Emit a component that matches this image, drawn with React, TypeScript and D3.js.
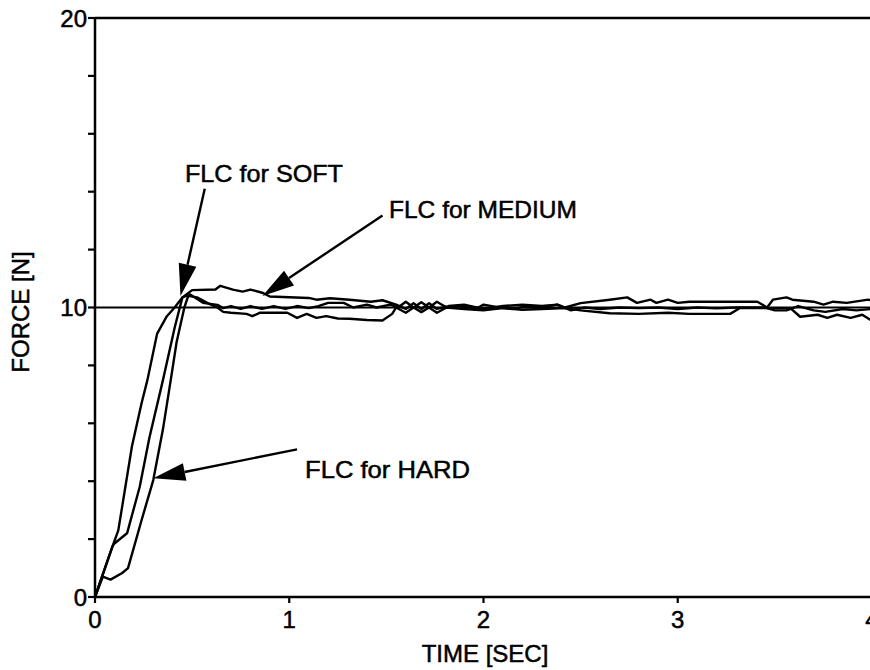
import React from 'react';
import * as d3 from 'd3';

// force response of the three controllers, [time s, force N]
const softSeries: [number, number][] = [
  [0, 0], [0.09, 1.75], [0.12, 2.3], [0.19, 5.2], [0.24, 6.7], [0.27, 7.5], [0.32, 9.1], [0.37, 9.7],
  [0.41, 10.0], [0.45, 10.35], [0.49, 10.45], [0.556, 10.16], [0.63, 10.09], [0.66, 9.98], [0.7, 10.05],
  [0.75, 9.95], [0.8, 10.05], [0.86, 9.95], [0.92, 10.05], [0.98, 9.95], [1.04, 10.05], [1.1, 9.98],
  [1.15, 10.05], [1.2, 10.16], [1.28, 10.16], [1.33, 10.0], [1.4, 10.1], [1.45, 10.0], [1.52, 10.1],
  [1.56, 10.0], [1.6, 10.2], [1.64, 10.0], [1.68, 10.18], [1.72, 10.0], [1.76, 10.2], [1.81, 10.0],
  [1.9, 10.05], [1.96, 9.95], [2.0, 10.1], [2.08, 10.0], [2.15, 9.95], [2.22, 10.05], [2.3, 10.0],
  [2.38, 10.1], [2.45, 9.9], [2.52, 10.0], [2.6, 9.95], [2.7, 10.0], [2.8, 9.98], [2.9, 10.0],
  [3.0, 9.95], [3.1, 10.0], [3.2, 9.97], [3.3, 10.0], [3.45, 10.0], [3.5, 9.9], [3.56, 9.9],
  [3.62, 10.05], [3.7, 9.9], [3.76, 9.85], [3.85, 9.95], [3.92, 9.9], [4.0, 9.95],
];

const mediumSeries: [number, number][] = [
  [0, 0], [0.09, 1.75], [0.1, 1.85], [0.165, 2.2], [0.23, 3.8], [0.28, 5.5], [0.35, 7.5], [0.41, 9.3],
  [0.45, 10.35], [0.5, 10.6], [0.62, 10.62], [0.645, 10.75], [0.71, 10.62], [0.76, 10.55], [0.8, 10.62],
  [0.865, 10.5], [0.9, 10.38], [1.1, 10.33], [1.14, 10.27], [1.21, 10.32], [1.31, 10.27], [1.42, 10.2],
  [1.48, 10.25], [1.55, 10.1], [1.6, 9.95], [1.64, 10.15], [1.68, 9.95], [1.72, 10.15], [1.76, 9.95],
  [1.82, 10.05], [1.9, 10.1], [2.0, 9.95], [2.1, 10.05], [2.2, 10.1], [2.3, 10.05], [2.38, 10.1],
  [2.42, 10.0], [2.5, 10.15], [2.65, 10.27], [2.74, 10.35], [2.79, 10.16], [2.86, 10.27], [2.89, 10.16],
  [2.95, 10.27], [3.0, 10.16], [3.06, 10.2], [3.41, 10.2], [3.46, 10.0], [3.49, 10.27], [3.56, 10.35],
  [3.59, 10.27], [3.7, 10.2], [3.75, 10.1], [3.8, 10.2], [3.87, 10.16], [3.98, 10.27], [4.0, 10.25],
];

const hardSeries: [number, number][] = [
  [0, 0], [0.04, 0.7], [0.08, 0.6], [0.14, 0.83], [0.17, 1.0], [0.24, 2.66], [0.3, 4.04], [0.35, 5.8],
  [0.39, 7.5], [0.42, 8.8], [0.46, 10.0], [0.48, 10.4], [0.525, 10.35], [0.58, 10.15], [0.63, 10.0],
  [0.66, 9.85], [0.7, 9.82], [0.78, 9.78], [0.81, 9.7], [0.85, 9.82], [0.99, 9.82], [1.04, 9.64],
  [1.09, 9.78], [1.14, 9.64], [1.19, 9.7], [1.25, 9.62], [1.31, 9.61], [1.4, 9.57], [1.48, 9.55],
  [1.53, 9.78], [1.55, 10.0], [1.6, 9.82], [1.64, 10.0], [1.68, 9.84], [1.72, 10.0], [1.76, 9.82],
  [1.81, 10.0], [1.9, 9.95], [2.0, 9.9], [2.1, 9.98], [2.2, 9.92], [2.3, 9.95], [2.42, 9.98],
  [2.5, 9.9], [2.65, 9.8], [2.8, 9.78], [2.95, 9.82], [3.06, 9.78], [3.27, 9.78], [3.32, 9.98],
  [3.58, 9.98], [3.63, 9.68], [3.72, 9.75], [3.77, 9.64], [3.82, 9.75], [3.89, 9.64], [3.95, 9.75],
  [4.0, 9.54],
];

const xTicks = [0, 1, 2, 3, 4];
const yMinorTicks = [0, 2, 4, 6, 8, 10, 12, 14, 16, 18, 20];
const yLabels = [0, 10, 20];
const setPoint = 10;

// annotations: label, text box, arrow from [t,F] to [t,F]
const notes = [
  { text: 'FLC for SOFT', x: 185, y: 182, w: 158, from: [0.565, 14.1], to: [0.44, 10.4] },
  { text: 'FLC for MEDIUM', x: 389, y: 218, w: 188, from: [1.48, 13.18], to: [0.862, 10.4] },
  { text: 'FLC for HARD', x: 305, y: 478, w: 165, from: [1.04, 5.1], to: [0.3, 4.1] },
];

const W = 870;
const H = 670;
const font = '"Liberation Sans", Arial, Helvetica, sans-serif';
const ink = { stroke: '#000', strokeWidth: 0.5 };

export default function App() {
  const x = d3.scaleLinear().domain([0, 4]).range([95, 872]);
  const y = d3.scaleLinear().domain([0, 20]).range([597, 18]);
  const line = d3.line<[number, number]>().x((d) => x(d[0])).y((d) => y(d[1]));

  const arrowHead = (from: number[], to: number[]) => {
    const x0 = x(from[0]), y0 = y(from[1]);
    const x1 = x(to[0]), y1 = y(to[1]);
    const len = Math.hypot(x1 - x0, y1 - y0);
    const ux = (x1 - x0) / len, uy = (y1 - y0) / len;
    const hl = 32, hw = 9;
    const bx = x1 - ux * hl, by = y1 - uy * hl;
    return {
      shaft: `M${x0},${y0}L${bx},${by}`,
      head: `M${x1},${y1}L${bx - uy * hw},${by + ux * hw}L${bx + uy * hw},${by - ux * hw}Z`,
    };
  };

  return (
    <svg width={W} height={H} style={{ position: 'absolute', left: 0, top: 0, background: '#fff' }}
      fontFamily={font}>
      {/* frame */}
      <line x1={x(0)} x2={W} y1={y(20)} y2={y(20)} stroke="#000" strokeWidth={2.5} />
      <line x1={x(0)} x2={x(0)} y1={y(0)} y2={y(20)} stroke="#000" strokeWidth={2.5} />
      <line x1={x(0)} x2={W} y1={y(0)} y2={y(0)} stroke="#000" strokeWidth={2.5} />
      <line x1={x(0)} x2={W} y1={y(setPoint)} y2={y(setPoint)} stroke="#000" strokeWidth={2.2} />

      {yMinorTicks.map((v) => (
        <line key={v} x1={x(0) - 7} x2={x(0)} y1={y(v)} y2={y(v)} stroke="#000" strokeWidth={2.2} />
      ))}
      {yLabels.map((v) => (
        <text key={v} x={x(0) - 8} y={y(v)} dy="0.36em" textAnchor="end" fontSize={24} {...ink}>{v}</text>
      ))}
      {xTicks.map((v) => (
        <g key={v}>
          <line x1={x(v)} x2={x(v)} y1={y(0)} y2={y(0) + 6} stroke="#000" strokeWidth={2.2} />
          <text x={x(v)} y={628} textAnchor="middle" fontSize={24} {...ink}>{v}</text>
        </g>
      ))}

      <text x={485} y={662} textAnchor="middle" fontSize={24} {...ink}>TIME [SEC]</text>
      <text transform="translate(29,312) rotate(-90)" textAnchor="middle" fontSize={24} {...ink}>FORCE [N]</text>

      {[softSeries, mediumSeries, hardSeries].map((s, i) => (
        <path key={i} d={line(s) ?? ''} fill="none" stroke="#000" strokeWidth={2.4} strokeLinejoin="round" />
      ))}

      {notes.map((n) => {
        const a = arrowHead(n.from, n.to);
        return (
          <g key={n.text}>
            <text x={n.x} y={n.y} fontSize={24} textLength={n.w} lengthAdjust="spacingAndGlyphs" {...ink}>{n.text}</text>
            <path d={a.shaft} stroke="#000" strokeWidth={2.4} />
            <path d={a.head} fill="#000" />
          </g>
        );
      })}
    </svg>
  );
}
